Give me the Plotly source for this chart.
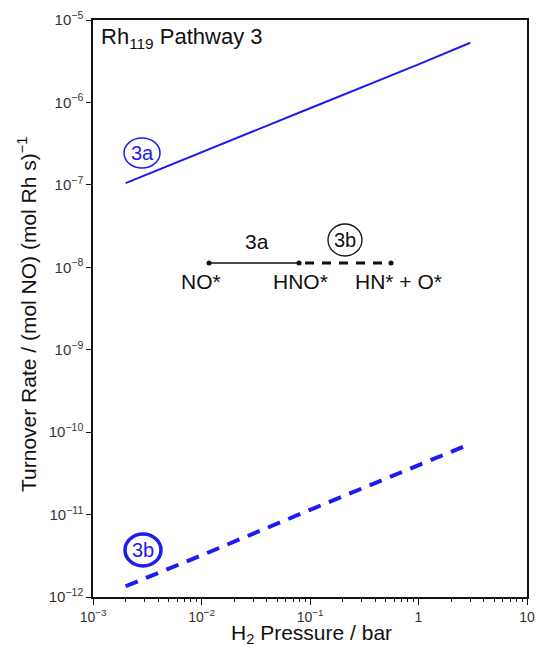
import plotly.graph_objects as go

# Data
pressure_bar = [0.002, 0.01, 0.1, 1.0, 3.0]
rate_3a = [1.05e-7, 2.5e-7, 8.5e-7, 2.9e-6, 5.3e-6]
rate_3b = [1.35e-12, 3.2e-12, 1.14e-11, 4.0e-11, 7.2e-11]

x_tickvals = [1e-3, 1e-2, 1e-1, 1, 10]
x_ticktext = ["10<sup>−3</sup>", "10<sup>−2</sup>", "10<sup>−1</sup>", "1", "10"]
y_tickvals = [1e-12, 1e-11, 1e-10, 1e-9, 1e-8, 1e-7, 1e-6, 1e-5]
y_ticktext = ["10<sup>−12</sup>", "10<sup>−11</sup>", "10<sup>−10</sup>", "10<sup>−9</sup>",
              "10<sup>−8</sup>", "10<sup>−7</sup>", "10<sup>−6</sup>", "10<sup>−5</sup>"]

W, H = 538, 646
L, R, T, B = 93, 11, 20, 49
PW, PH = W - L - R, H - T - B

def px(x):
    return (x - L) / PW

def py(y):
    return (H - B - y) / PH

BLUE = "#1c1cf0"
FONT = "Liberation Sans, Arial, sans-serif"
INK = "#111"

fig = go.Figure()
fig.add_trace(go.Scatter(x=pressure_bar, y=rate_3a, mode="lines",
                         line=dict(color=BLUE, width=2), showlegend=False))
fig.add_trace(go.Scatter(x=pressure_bar, y=rate_3b, mode="lines",
                         line=dict(color=BLUE, width=4, dash="13px,9px"), showlegend=False))

shapes = []
annotations = []

# Title inside plot
annotations.append(dict(x=px(99), y=py(38), xref="paper", yref="paper",
                        text="Rh<sub>119</sub> Pathway 3", showarrow=False,
                        xanchor="left", yanchor="middle",
                        font=dict(size=22, color=INK, family=FONT)))

# Axis titles
annotations.append(dict(x=px(311), y=py(634), xref="paper", yref="paper",
                        text="H<sub>2</sub> Pressure / bar", showarrow=False,
                        xanchor="center", yanchor="middle",
                        font=dict(size=21, color=INK, family=FONT)))
annotations.append(dict(x=px(27), y=py(314), xref="paper", yref="paper",
                        text="Turnover Rate / (mol NO) (mol Rh s)<sup>−1</sup>", showarrow=False,
                        xanchor="center", yanchor="middle", textangle=-90,
                        font=dict(size=21, color=INK, family=FONT)))

# Circled labels for lines
def circled(cx, cy, label, color, lw, fs, rx=18, ry=15):
    shapes.append(dict(type="circle", xref="paper", yref="paper",
                       xsizemode="pixel", ysizemode="pixel",
                       xanchor=px(cx), yanchor=py(cy),
                       x0=-rx, x1=rx, y0=-ry, y1=ry,
                       line=dict(color=color, width=lw)))
    annotations.append(dict(x=px(cx), y=py(cy), xref="paper", yref="paper",
                            text=label, showarrow=False, xanchor="center", yanchor="middle",
                            font=dict(size=fs, color=color, family=FONT)))

circled(142, 153, "3a", BLUE, 1.5, 20)
circled(143, 550, "3b", BLUE, 3.5, 20, rx=18, ry=16)
circled(345, 240, "3b", INK, 1.3, 20, rx=17, ry=16)

# Reaction diagram
x_no, x_hno, x_end, y_line = 209, 299, 391, 263
shapes.append(dict(type="line", xref="paper", yref="paper",
                   x0=px(x_no), x1=px(x_hno), y0=py(y_line), y1=py(y_line),
                   line=dict(color=INK, width=1.5)))
shapes.append(dict(type="line", xref="paper", yref="paper",
                   x0=px(x_hno + 6), x1=px(x_end - 4), y0=py(y_line), y1=py(y_line),
                   line=dict(color=INK, width=3, dash="9px,8px")))
for xx in (x_no, x_hno, x_end):
    shapes.append(dict(type="circle", xref="paper", yref="paper",
                       xsizemode="pixel", ysizemode="pixel",
                       xanchor=px(xx), yanchor=py(y_line),
                       x0=-2.5, x1=2.5, y0=-2.5, y1=2.5,
                       fillcolor=INK, line=dict(color=INK, width=0)))

for text, xx, yy in [("3a", 257, 242), ("NO*", 201, 281), ("HNO*", 300, 281), ("HN* + O*", 398, 281)]:
    annotations.append(dict(x=px(xx), y=py(yy), xref="paper", yref="paper",
                            text=text, showarrow=False, xanchor="center", yanchor="middle",
                            font=dict(size=21, color=INK, family=FONT)))

fig.update_layout(
    width=W, height=H,
    margin=dict(l=L, r=R, t=T, b=B),
    paper_bgcolor="white", plot_bgcolor="white",
    font=dict(family=FONT, color="#222"),
    shapes=shapes, annotations=annotations,
    xaxis=dict(type="log", range=[-3, 1], tickvals=x_tickvals, ticktext=x_ticktext,
               ticks="outside", ticklen=6, tickwidth=1.3, tickcolor=INK,
               showline=True, linecolor=INK, linewidth=1.5, mirror=True,
               showgrid=False, zeroline=False, automargin=False,
               tickfont=dict(size=14, color="#333"),
               minor=dict(ticks="outside", ticklen=3, tickwidth=1, tickcolor=INK,
                          dtick="D1", showgrid=False)),
    yaxis=dict(type="log", range=[-12, -5], tickvals=y_tickvals, ticktext=y_ticktext,
               ticks="outside", ticklen=5, tickwidth=1.3, tickcolor=INK,
               showline=True, linecolor=INK, linewidth=1.5, mirror=True,
               showgrid=False, zeroline=False, automargin=False,
               tickfont=dict(size=15, color="#333")),
)

fig.write_html("out.html")
